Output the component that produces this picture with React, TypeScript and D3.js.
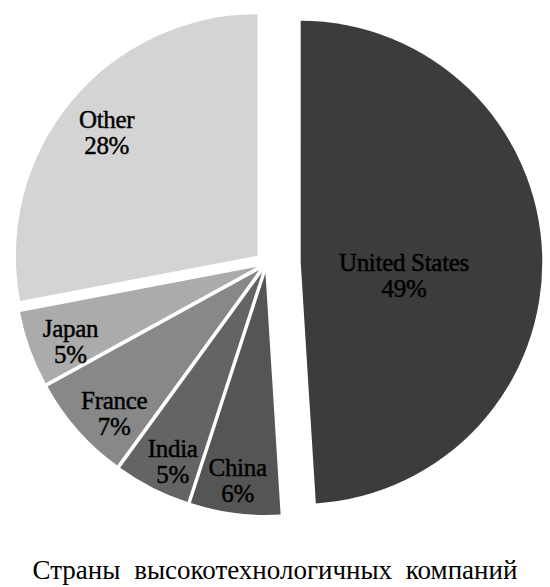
import React from "react";
import * as d3 from "d3";

const countries = ["United States", "China", "India", "France", "Japan", "Other"];
const shares = [49, 6, 5, 7, 5, 28];
const colors = ["#3c3c3c", "#555555", "#646464", "#888888", "#ababab", "#d4d4d4"];
const explode = [34, 10, 10, 10, 10, 12];
const labelRadius = [0.43, 0.86, 0.86, 0.84, 0.83, 0.81];
const labelShift = [8, 0.5, -1.5, -3, -1.5, 0];
const title = "Страны высокотехнологичных компаний";

const W = 550;
const H = 587;
const CX = 266.7;
const CY = 263.4;
const R = 241.6;

export default function App() {
  const pie = d3.pie<number>().sort(null).value((d) => d).startAngle(0).endAngle(2 * Math.PI);
  const arcs = pie(shares);
  const arc = d3.arc<d3.PieArcDatum<number>>().innerRadius(0).outerRadius(R);
  const font = "'Liberation Serif', 'Times New Roman', serif";

  return (
    <svg
      width={W}
      height={H}
      style={{ position: "absolute", left: 0, top: 0, background: "#fff" }}
    >
      <g transform={`translate(${CX},${CY})`}>
        {arcs.map((a, i) => {
          const mid = (a.startAngle + a.endAngle) / 2;
          const ox = explode[i] * Math.sin(mid);
          const oy = -explode[i] * Math.cos(mid);
          const la = mid + (labelShift[i] * Math.PI) / 180;
          const lx = ox + labelRadius[i] * R * Math.sin(la);
          const ly = oy - labelRadius[i] * R * Math.cos(la);
          return (
            <g key={countries[i]}>
              <path d={arc(a) || ""} transform={`translate(${ox},${oy})`} fill={colors[i]} />
              <text
                x={lx}
                y={ly - 3}
                textAnchor="middle"
                fontFamily={font}
                fontSize={25}
                letterSpacing={-0.3}
                fill="#000"
                stroke="#000"
                strokeWidth={0.45}
              >
                {countries[i]}
              </text>
              <text
                x={lx}
                y={ly + 23}
                textAnchor="middle"
                fontFamily={font}
                fontSize={25}
                letterSpacing={-0.3}
                fill="#000"
                stroke="#000"
                strokeWidth={0.45}
              >
                {shares[i]}%
              </text>
            </g>
          );
        })}
      </g>
      <text
        x={W / 2}
        y={579}
        textAnchor="middle"
        fontFamily={font}
        fontSize={27}
        wordSpacing={7}
        fill="#000"
      >
        {title}
      </text>
    </svg>
  );
}
